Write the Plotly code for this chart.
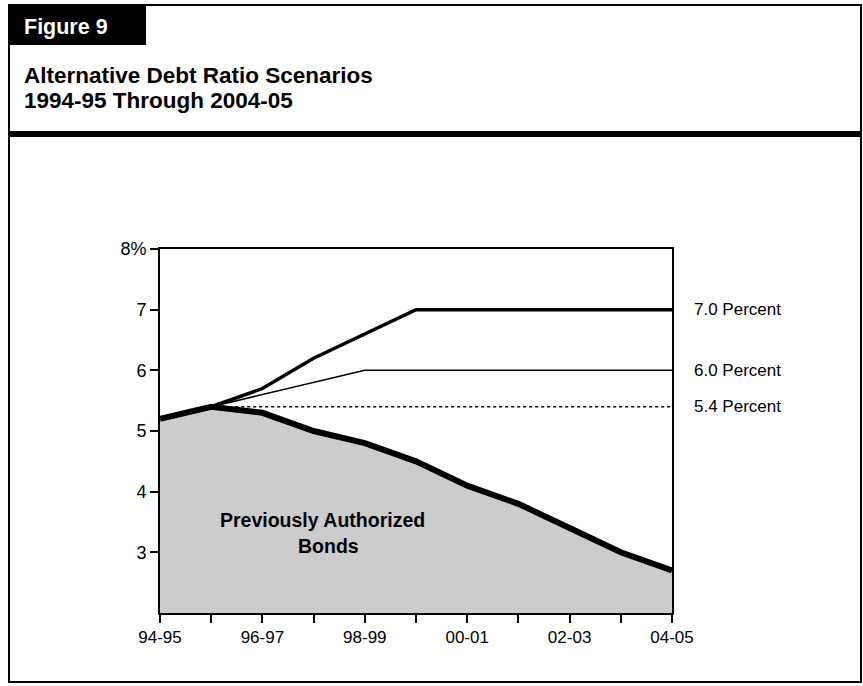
import plotly.graph_objects as go

W, H = 863, 686

years = ["94-95", "95-96", "96-97", "97-98", "98-99", "99-00",
         "00-01", "01-02", "02-03", "03-04", "04-05"]
xlabels = ["94-95", "", "96-97", "", "98-99", "", "00-01", "", "02-03", "", "04-05"]
prev_authorized = [5.2, 5.4, 5.3, 5.0, 4.8, 4.5, 4.1, 3.8, 3.4, 3.0, 2.7]
scen_70 = [None, 5.4, 5.7, 6.2, 6.6, 7.0, 7.0, 7.0, 7.0, 7.0, 7.0]
scen_60 = [None, 5.4, 5.6, 5.8, 6.0, 6.0, 6.0, 6.0, 6.0, 6.0, 6.0]
scen_54 = [None, 5.4, 5.4, 5.4, 5.4, 5.4, 5.4, 5.4, 5.4, 5.4, 5.4]
end_labels = ["7.0 Percent", "6.0 Percent", "5.4 Percent"]
end_values = [7.0, 6.0, 5.4]
ytickvals = [3, 4, 5, 6, 7, 8]
yticktext = ["3", "4", "5", "6", "7", "8%"]

FONT = "Liberation Sans, Arial, sans-serif"
xi = list(range(len(years)))


def px(x):
    return x / W


def py(y):
    return 1 - y / H


fig = go.Figure()
fig.add_trace(go.Scatter(x=xi, y=prev_authorized, mode="lines", fill="tozeroy",
                         fillcolor="#cccccc", line=dict(color="black", width=6),
                         hoverinfo="skip", showlegend=False))
fig.add_trace(go.Scatter(x=xi, y=scen_54, mode="lines",
                         line=dict(color="black", width=1.5, dash="dot"),
                         showlegend=False))
fig.add_trace(go.Scatter(x=xi, y=scen_60, mode="lines",
                         line=dict(color="black", width=1.5), showlegend=False))
fig.add_trace(go.Scatter(x=xi, y=scen_70, mode="lines",
                         line=dict(color="black", width=3.5), showlegend=False))

x_dom = [px(160), px(672)]
y_dom = [py(613), py(249)]

fig.update_layout(
    template="none",
    width=W, height=H,
    autosize=False,
    margin=dict(l=0, r=0, t=0, b=0, pad=0, autoexpand=False),
    paper_bgcolor="white", plot_bgcolor="white",
    font=dict(family=FONT, color="black"),
    showlegend=False,
    xaxis=dict(domain=x_dom, range=[0, 10], tickvals=xi, ticktext=xlabels,
               automargin=False,
               showgrid=False, zeroline=False, showline=True, mirror=True,
               linecolor="black", linewidth=2, ticks="outside", ticklen=8,
               tickwidth=1.5, tickcolor="black", tickfont=dict(size=17)),
    yaxis=dict(domain=y_dom, range=[2, 8], tickvals=ytickvals, ticktext=yticktext,
               automargin=False,
               showgrid=False, zeroline=False, showline=True, mirror=True,
               linecolor="black", linewidth=2, ticks="outside", ticklen=8,
               tickwidth=1.5, tickcolor="black", tickfont=dict(size=18)),
)

shapes = [
    dict(type="rect", xref="paper", yref="paper", x0=px(9), x1=px(861),
         y0=py(5), y1=py(682), line=dict(color="black", width=2)),
    dict(type="rect", xref="paper", yref="paper", x0=px(9), x1=px(146),
         y0=py(5), y1=py(45), fillcolor="black", line=dict(width=0)),
    dict(type="line", xref="paper", yref="paper", x0=px(9), x1=px(861),
         y0=py(134), y1=py(134), line=dict(color="black", width=6)),
]
fig.update_layout(shapes=shapes)

ann = [
    dict(text="<b>Figure 9</b>", x=px(22), y=py(27), font=dict(size=21.5, color="white")),
    dict(text="<b>Alternative Debt Ratio Scenarios</b>", x=px(22), y=py(75), font=dict(size=22.5)),
    dict(text="<b>1994-95 Through 2004-05</b>", x=px(22), y=py(101), font=dict(size=22.5)),
]
for a in ann:
    a.update(xref="paper", yref="paper", xanchor="left", yanchor="middle", showarrow=False)
    fig.add_annotation(**a)

for lab, val in zip(end_labels, end_values):
    fig.add_annotation(text=lab, xref="paper", yref="y", x=px(692), y=val,
                       xanchor="left", yanchor="middle", showarrow=False,
                       font=dict(size=17))

fig.add_annotation(text="<b>Previously Authorized</b>", xref="paper", yref="paper",
                   x=px(322), y=py(520), xanchor="center", yanchor="middle",
                   showarrow=False, font=dict(size=19.5))
fig.add_annotation(text="<b>Bonds</b>", xref="paper", yref="paper",
                   x=px(328), y=py(546), xanchor="center", yanchor="middle",
                   showarrow=False, font=dict(size=19.5))

fig.write_html("out.html")
